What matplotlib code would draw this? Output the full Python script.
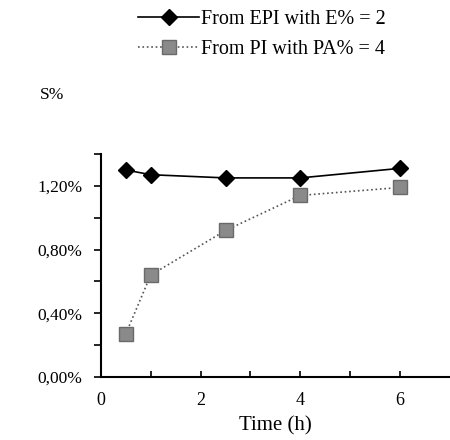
import matplotlib
matplotlib.use('Agg')
import matplotlib.pyplot as plt
from matplotlib.ticker import FixedLocator, FuncFormatter

# data
timeEPI = [0.5, 1, 2.5, 4, 6]
sEPI = [1.30, 1.27, 1.25, 1.25, 1.31]
timePI = [0.5, 1, 2.5, 4, 6]
sPI = [0.27, 0.64, 0.92, 1.14, 1.19]
labelEPI = 'From EPI with E% = 2'
labelPI = 'From PI with PA% = 4'

plt.rcParams['font.family'] = ['Liberation Serif', 'DejaVu Serif']
plt.rcParams['font.size'] = 12

fig = plt.figure(figsize=(4.5, 4.4), dpi=100)
ax = fig.add_axes([0.224, 0.143, 0.776, 0.507])

ax.plot(timeEPI, sEPI, '-', color='black', lw=1.2, marker='D', markersize=8,
	markerfacecolor='black', markeredgecolor='black', label=labelEPI)
ax.plot(timePI, sPI, ':', color='#555555', lw=1.2, marker='s', markersize=10,
	markerfacecolor='#8a8a8a', markeredgecolor='#6a6a6a', label=labelPI)

ax.set_xlim(0, 7)
ax.set_ylim(0, 1.4)
ax.xaxis.set_major_locator(FixedLocator([0, 2, 4, 6]))
ax.xaxis.set_minor_locator(FixedLocator([1, 3, 5]))
ax.yaxis.set_major_locator(FixedLocator([0, 0.4, 0.8, 1.2]))
ax.yaxis.set_minor_locator(FixedLocator([0.2, 0.6, 1.0, 1.4]))
ax.yaxis.set_major_formatter(FuncFormatter(lambda v, p: ('%.2f%%' % v).replace('.', ',')))
ax.tick_params(axis='x', which='both', direction='in', length=4, width=1.2, pad=11, labelsize=13)
ax.tick_params(axis='y', which='both', direction='out', length=5, width=1.2, pad=8, labelsize=12.5)

for side in ['top', 'right']:
	ax.spines[side].set_visible(False)
for side in ['left', 'bottom']:
	ax.spines[side].set_linewidth(1.5)

ax.set_xlabel('Time (h)', fontsize=15, labelpad=5)
fig.text(0.088, 0.785, 'S%', ha='left', va='center', fontsize=12.5)

fig.legend(loc='upper left', bbox_to_anchor=(0.285, 1.0), frameon=False, fontsize=14.5,
	handlelength=3.0, handletextpad=0.1, labelspacing=0.55, borderaxespad=0.1)

plt.savefig('out.png', dpi=100)
